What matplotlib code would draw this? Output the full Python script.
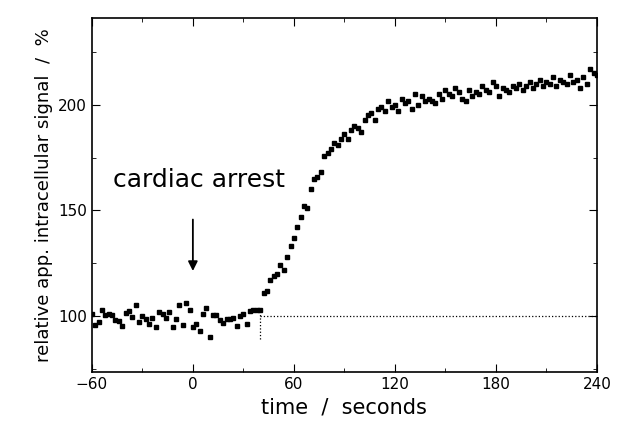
import matplotlib.pyplot as plt
import numpy as np
from matplotlib.ticker import MultipleLocator

time_s = np.arange(-60, 242, 2)
baseline = [101, 95.6, 97, 103, 100.5, 101, 100.5, 98, 97.8, 95.4,
            101.4, 102.5, 99.4, 105, 97, 100, 98.4, 96, 99, 95,
            102, 101, 99, 102, 95, 98.6, 105, 95.7, 106, 103,
            95, 96, 93, 101, 104, 90, 100.5, 100.5, 98, 96.5,
            98.4, 98.6, 99, 95.3, 100, 101, 96, 102.4, 103, 103, 103]
after = [111, 112, 117, 119, 120, 124, 122, 128, 133, 137,
         142, 147, 152, 151, 160, 165, 166, 168, 176, 177,
         179, 182, 181, 184, 186, 184, 188, 190, 189, 187,
         193, 195, 196, 193, 198, 199, 197, 202, 199, 200,
         197, 203, 201, 202, 198, 205, 200, 204, 202, 203,
         202, 201, 205, 203, 207, 205, 204, 208, 206, 203,
         202, 207, 204, 206, 205, 209, 207, 206, 211, 209,
         204, 208, 207, 206, 209, 208, 210, 207, 209, 211,
         208, 210, 212, 209, 211, 210, 213, 209, 212, 211,
         210, 214, 211, 212, 208, 213, 210, 217, 215, 214]
signal = np.array(baseline + after)

fig, ax = plt.subplots(figsize=(6.25, 4.37), dpi=100)
fig.subplots_adjust(left=0.147, right=0.955, top=0.958, bottom=0.149)

ax.plot(time_s, signal, "s", color="black", markersize=3.5)
ax.plot([40, 240], [100, 100], ":", color="black", linewidth=0.9)
ax.plot([40, 40], [89, 103], ":", color="black", linewidth=0.9)

ax.annotate("", xy=(0, 120), xytext=(0, 147),
            arrowprops=dict(arrowstyle="-|>", color="black", lw=1.3, mutation_scale=14))
ax.text(-47.5, 161, "cardiac arrest", fontsize=18, ha="left", va="baseline")

ax.set_xlim(-60, 240)
ax.set_ylim(73.5, 241)
ax.set_xticks([-60, 0, 60, 120, 180, 240])
ax.set_yticks([100, 150, 200])
ax.xaxis.set_minor_locator(MultipleLocator(30))
ax.yaxis.set_minor_locator(MultipleLocator(25))
ax.tick_params(which="both", direction="in", top=True, right=True, labelsize=11)
ax.tick_params(which="major", length=6)
ax.tick_params(which="minor", length=3)
for s in ax.spines.values():
    s.set_linewidth(1.2)

ax.set_xlabel("time  /  seconds", fontsize=15)
ax.set_ylabel("relative app. intracellular signal  /  %", fontsize=13)

fig.savefig("out.png")
